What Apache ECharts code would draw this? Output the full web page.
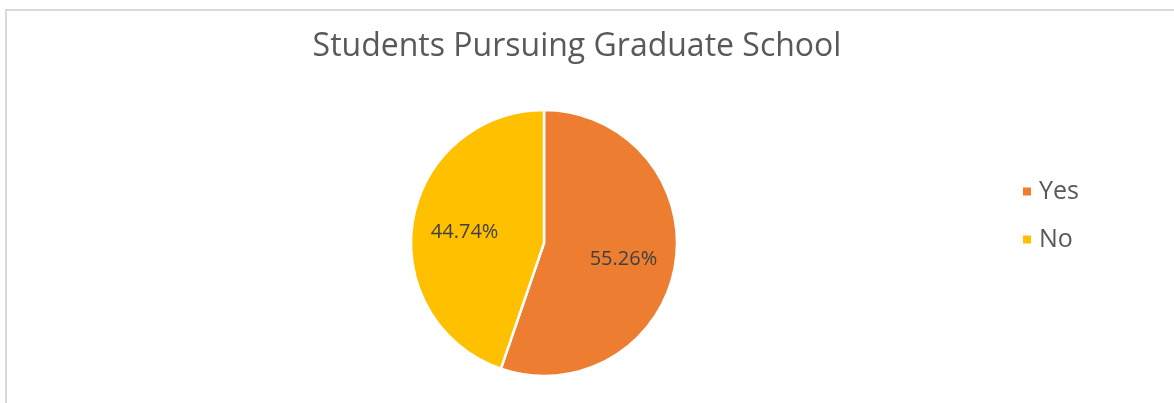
<!DOCTYPE html>
<html>
<head>
<meta charset="utf-8">
<script src="https://cdn.jsdelivr.net/npm/echarts@6/dist/echarts.min.js"></script>
<style>
  html, body { margin: 0; padding: 0; background: #fff; overflow: hidden; }
  .frame {
    position: absolute; left: 5px; top: 9px; width: 1300px; height: 500px;
    border-top: 2px solid #d9d9d9; border-left: 2px solid #d9d9d9;
  }
  #chart { position: absolute; left: 0; top: 0; width: 1174px; height: 403px; }
</style>
</head>
<body>
<div class="frame"></div>
<div id="chart"></div>
<script>
// answers and counts (21 / 38 = 55.26%)
const categories = ['Yes', 'No']
const counts = [21, 17]
const colors = ['#ED7D31', '#FFC000']

const pieData = categories.map((c, i) => ({ name: c, value: counts[i] }))

const chart = echarts.init(document.getElementById('chart'))
chart.setOption({
  color: colors,
  animation: false,
  title: {
    text: 'Students Pursuing Graduate School',
    left: 572,
    top: 26,
    textAlign: 'center',
    textStyle: {
      fontFamily: 'Open Sans',
      fontSize: 32,
      fontWeight: 'normal',
      color: '#595959'
    }
  },
  legend: {
    orient: 'vertical',
    left: 1016,
    top: 174,
    itemWidth: 10,
    itemHeight: 10,
    itemGap: 23,
    icon: 'rect',
    textStyle: {
      fontFamily: 'Open Sans',
      fontSize: 25,
      color: '#595959',
      padding: [0, 0, 0, 2]
    },
    data: categories
  },
  series: [
    {
      type: 'pie',
      center: [544, 243],
      radius: 133,
      startAngle: 90,
      clockwise: true,
      itemStyle: { borderColor: '#fff', borderWidth: 2.5 },
      label: { show: false },
      labelLine: { show: false },
      data: pieData
    },
    {
      // see-through ring, only to put the percent labels a bit further out
      type: 'pie',
      center: [544, 243],
      radius: [22, 133],
      startAngle: 90,
      clockwise: true,
      silent: true,
      itemStyle: { color: 'rgba(0,0,0,0)', borderWidth: 0 },
      label: {
        position: 'inside',
        formatter: '{d}%',
        offset: [0, 3],
        fontFamily: 'Open Sans',
        fontSize: 20,
        color: '#404040'
      },
      labelLine: { show: false },
      data: pieData
    }
  ]
})
</script>
</body>
</html>
